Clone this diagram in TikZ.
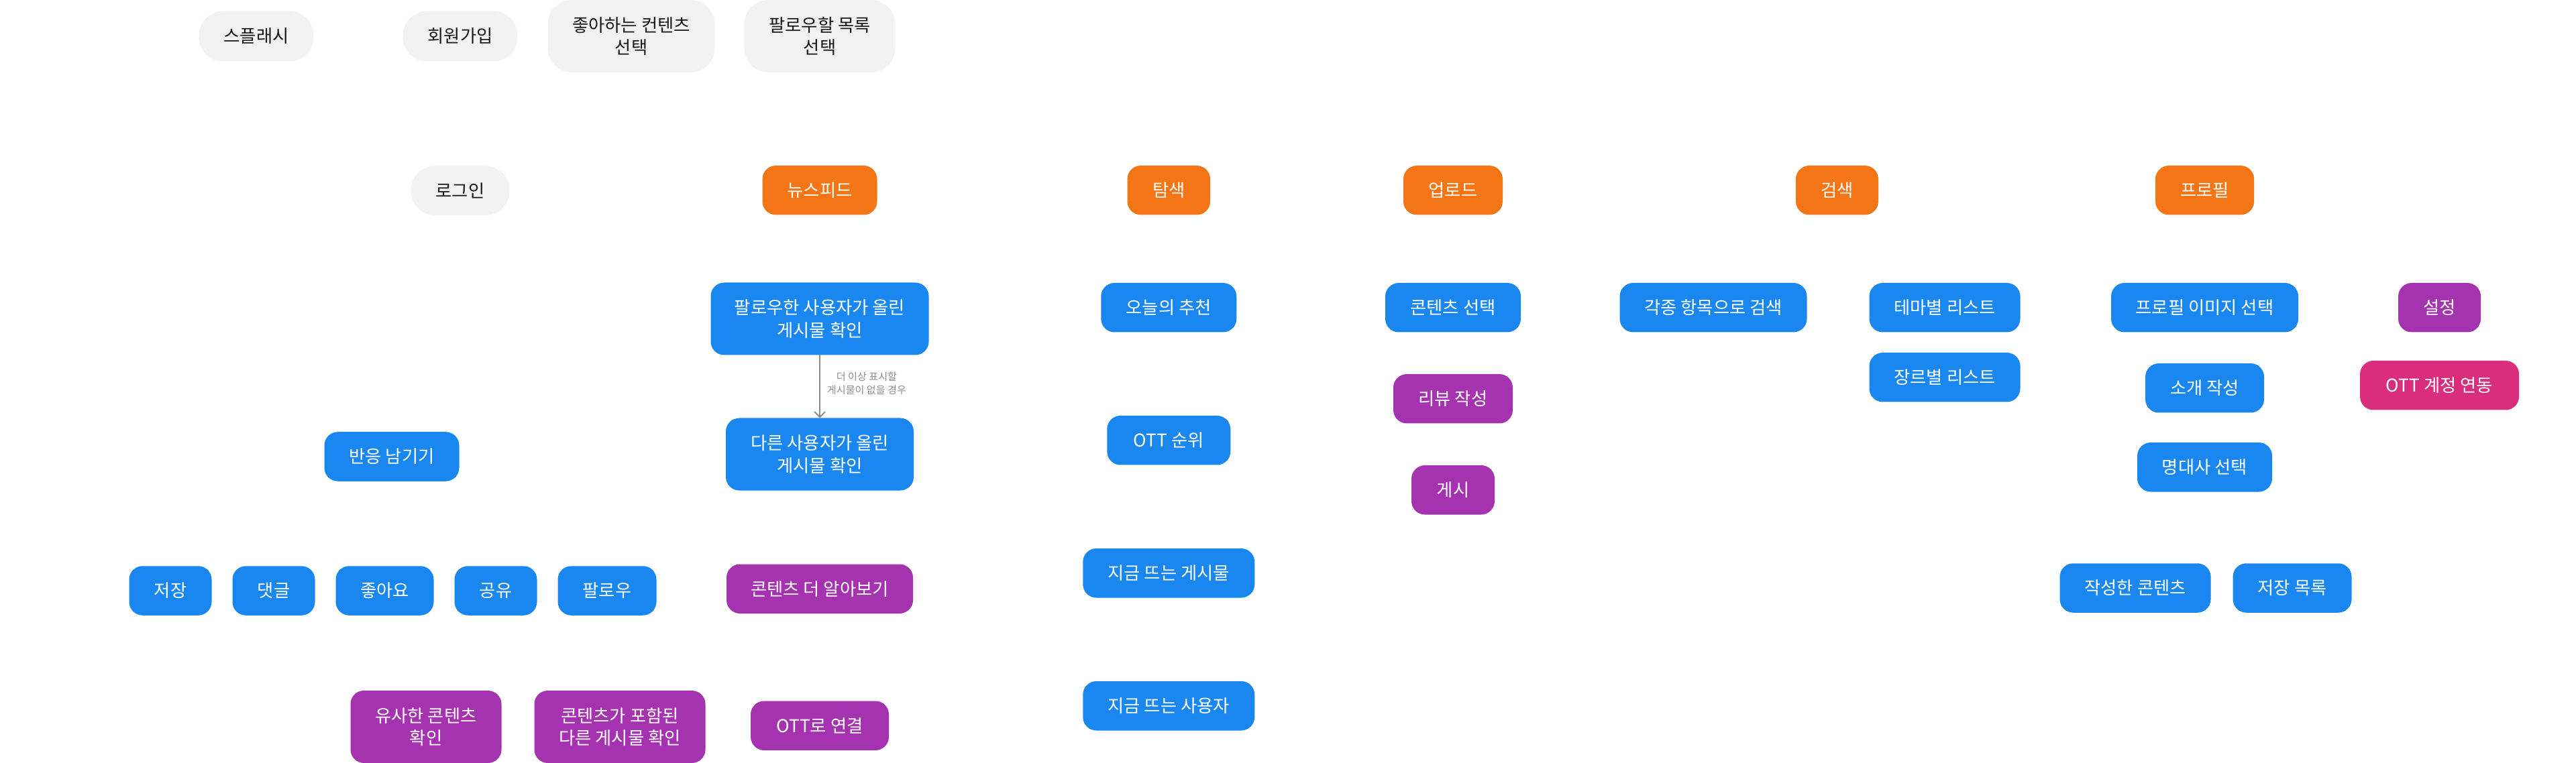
\documentclass[tikz,border=0pt]{standalone}
\usepackage{fontspec}
\setmainfont{Noto Sans CJK KR}
\usetikzlibrary{positioning,arrows.meta}
\definecolor{menuorange}{HTML}{F47516}
\definecolor{funcblue}{HTML}{1A87F0}
\definecolor{extpurple}{HTML}{A533AF}
\definecolor{linkpink}{HTML}{D92D7E}
\definecolor{introgray}{HTML}{F2F2F2}
\definecolor{arrowgray}{HTML}{8C8C8C}
\tikzset{
  screenbox/.style={
    rectangle,
    rounded corners=0.2cm,
    minimum height=0.735cm,
    inner sep=1pt, outer sep=0pt,
    text=white,
    font=\fontsize{7.5pt}{9.5pt}\selectfont
  },
  mainbox/.style={screenbox, fill=menuorange},
  funcbox/.style={screenbox, fill=funcblue},
  extbox/.style={screenbox, fill=extpurple},
  linkbox/.style={screenbox, fill=linkpink},
  introbox/.style={screenbox, fill=introgray, text=black!90, rounded corners=0.36cm},
  twoline/.style={minimum height=1.08cm},
}

\begin{document}
\begin{tikzpicture}[->,>={Straight Barb[length=0.8mm,width=1.6mm]},thick,every text node part/.style={align=center}]

\useasboundingbox (0,0) rectangle (38.4,-11.38);

% intro screens
\node[introbox, minimum width=1.71cm, minimum height=0.75cm] (SPLASH) at (3.82,-0.54) {스플래시};
\node[introbox, minimum width=1.71cm, minimum height=0.75cm, right=1.33cm of SPLASH] (SIGNUP) {회원가입};
\node[introbox, twoline, minimum width=2.49cm, right=0.45cm of SIGNUP] (LIKECONT) {좋아하는 컨텐츠\\선택};
\node[introbox, twoline, minimum width=2.25cm, right=0.44cm of LIKECONT] (FOLLOWLIST) {팔로우할 목록\\선택};
\node[introbox, minimum width=1.47cm, below=1.56cm of SIGNUP] (LOGIN) {로그인};

% main menu
\node[mainbox, minimum width=1.71cm, below=1.39cm of FOLLOWLIST] (FEED) {뉴스피드};
\node[mainbox, minimum width=1.235cm, right=3.73cm of FEED] (EXPLORE) {탐색};
\node[mainbox, minimum width=1.48cm, right=2.88cm of EXPLORE] (UPLOAD) {업로드};
\node[mainbox, minimum width=1.23cm, right=4.37cm of UPLOAD] (SEARCH) {검색};
\node[mainbox, minimum width=1.47cm, right=4.13cm of SEARCH] (PROFILE) {프로필};

% news feed
\node[funcbox, twoline, minimum width=3.25cm, below=1.01cm of FEED] (FOLLOWED) {팔로우한 사용자가 올린\\게시물 확인};
\node[funcbox, twoline, minimum width=2.80cm, below=0.94cm of FOLLOWED] (OTHERS) {다른 사용자가 올린\\게시물 확인};
\node[extbox, minimum width=2.78cm, below=1.10cm of OTHERS] (MORE) {콘텐츠 더 알아보기};
\node[extbox, minimum width=2.06cm, below=1.305cm of MORE] (OTTLINK) {OTT로 연결};
\draw [arrowgray, line width=0.55pt] (FOLLOWED) -- node[pos=0.45, right=0.1cm, inner sep=0pt, text=black!45, font=\fontsize{4.3pt}{5.7pt}\selectfont](NOMORE){더 이상 표시할\\게시물이 없을 경우} (OTHERS);

\node[funcbox, minimum width=2.01cm] (REACT) at (5.84,-6.81) {반응 남기기};
\node[funcbox, minimum width=1.23cm] (SAVE) at (2.54,-8.81) {저장};
\node[funcbox, minimum width=1.23cm, right=0.31cm of SAVE] (COMMENT) {댓글};
\node[funcbox, minimum width=1.46cm, right=0.31cm of COMMENT] (LIKE) {좋아요};
\node[funcbox, minimum width=1.23cm, right=0.31cm of LIKE] (SHARE) {공유};
\node[funcbox, minimum width=1.47cm, right=0.31cm of SHARE] (FOLLOW) {팔로우};
\node[extbox, twoline, minimum width=2.25cm] (SIMILAR) at (6.35,-10.84) {유사한 콘텐츠\\확인};
\node[extbox, twoline, minimum width=2.55cm, right=0.49cm of SIMILAR] (INCLUDED) {콘텐츠가 포함된\\다른 게시물 확인};

% explore
\node[funcbox, minimum width=2.02cm, below=1.015cm of EXPLORE] (RECOMMEND) {오늘의 추천};
\node[funcbox, minimum width=1.84cm, below=1.245cm of RECOMMEND] (RANKING) {OTT 순위};
\node[funcbox, minimum width=2.56cm, below=1.245cm of RANKING] (HOTPOST) {지금 뜨는 게시물};
\node[funcbox, minimum width=2.56cm, below=1.245cm of HOTPOST] (HOTUSER) {지금 뜨는 사용자};

% upload
\node[funcbox, minimum width=2.02cm, below=1.015cm of UPLOAD] (PICKCONT) {콘텐츠 선택};
\node[extbox, minimum width=1.78cm, below=0.625cm of PICKCONT] (REVIEW) {리뷰 작성};
\node[extbox, minimum width=1.24cm, below=0.625cm of REVIEW] (POST) {게시};

% search
\node[funcbox, minimum width=2.79cm, right=1.475cm of PICKCONT] (SEARCHALL) {각종 항목으로 검색};
\node[funcbox, minimum width=2.25cm, right=0.93cm of SEARCHALL] (THEME) {테마별 리스트};
\node[funcbox, minimum width=2.25cm, below=0.305cm of THEME] (GENRE) {장르별 리스트};

% profile
\node[funcbox, minimum width=2.79cm, below=1.015cm of PROFILE] (PROFIMG) {프로필 이미지 선택};
\node[funcbox, minimum width=1.77cm, below=0.465cm of PROFIMG] (INTRO) {소개 작성};
\node[funcbox, minimum width=2.01cm, below=0.445cm of INTRO] (QUOTE) {명대사 선택};
\node[funcbox, minimum width=2.25cm] (MYCONT) at (31.83,-8.77) {작성한 콘텐츠};
\node[funcbox, minimum width=1.77cm, right=0.33cm of MYCONT] (SAVED) {저장 목록};
\node[extbox, minimum width=1.23cm, right=1.49cm of PROFIMG] (SETTING) {설정};
\node[linkbox, minimum width=2.37cm, below=0.425cm of SETTING] (OTTACC) {OTT 계정 연동};
\end{tikzpicture}
\end{document}
